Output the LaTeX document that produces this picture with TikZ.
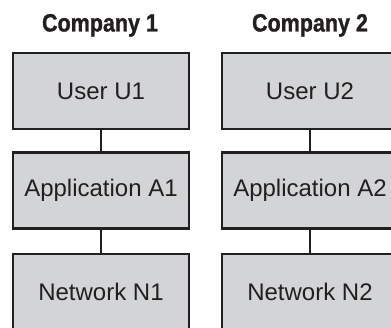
\documentclass[tikz,border=0pt]{standalone}
\usepackage{fontspec}
\setmainfont{Liberation Sans}
\newfontfamily\headfont[FakeStretch=0.86, FakeBold=1.2]{Liberation Sans Bold}
\definecolor{ink}{HTML}{231F20}
\definecolor{boxgray}{HTML}{D3D4D6}
\begin{document}
\begin{tikzpicture}[x=1pt,y=-1pt,
  layerbox/.style={draw=ink, fill=boxgray, line width=2.6pt,
    minimum width=176pt, minimum height=76pt, inner sep=0pt,
    text=ink, font=\fontsize{24}{28}\selectfont},
  heading/.style={text=ink, inner sep=0pt, anchor=base,
    font=\fontsize{25}{29}\selectfont\headfont},
  link/.style={draw=ink, line width=2.2pt}]
  \useasboundingbox (0,0) rectangle (391,328);
  \clip (0,0) rectangle (391,328);
  % column headings
  \node[heading] (h1) at (100,31.5) {Company 1};
  \node[heading] (h2) at (310,31.5) {Company 2};
  % company 1 stack
  \node[layerbox] (u1) at (101,91) {User U1};
  \node[layerbox] (a1) at (101,190.5) {Application A1};
  \node[layerbox] (n1) at (101,292) {Network N1};
  % company 2 stack
  \node[layerbox] (u2) at (310,91) {User U2};
  \node[layerbox] (a2) at (310,190.5) {Application A2};
  \node[layerbox] (n2) at (310,292) {Network N2};
  % vertical links between layers
  \draw[link] (u1.south) -- (a1.north);
  \draw[link] (a1.south) -- (n1.north);
  \draw[link] (u2.south) -- (a2.north);
  \draw[link] (a2.south) -- (n2.north);
\end{tikzpicture}
\end{document}
